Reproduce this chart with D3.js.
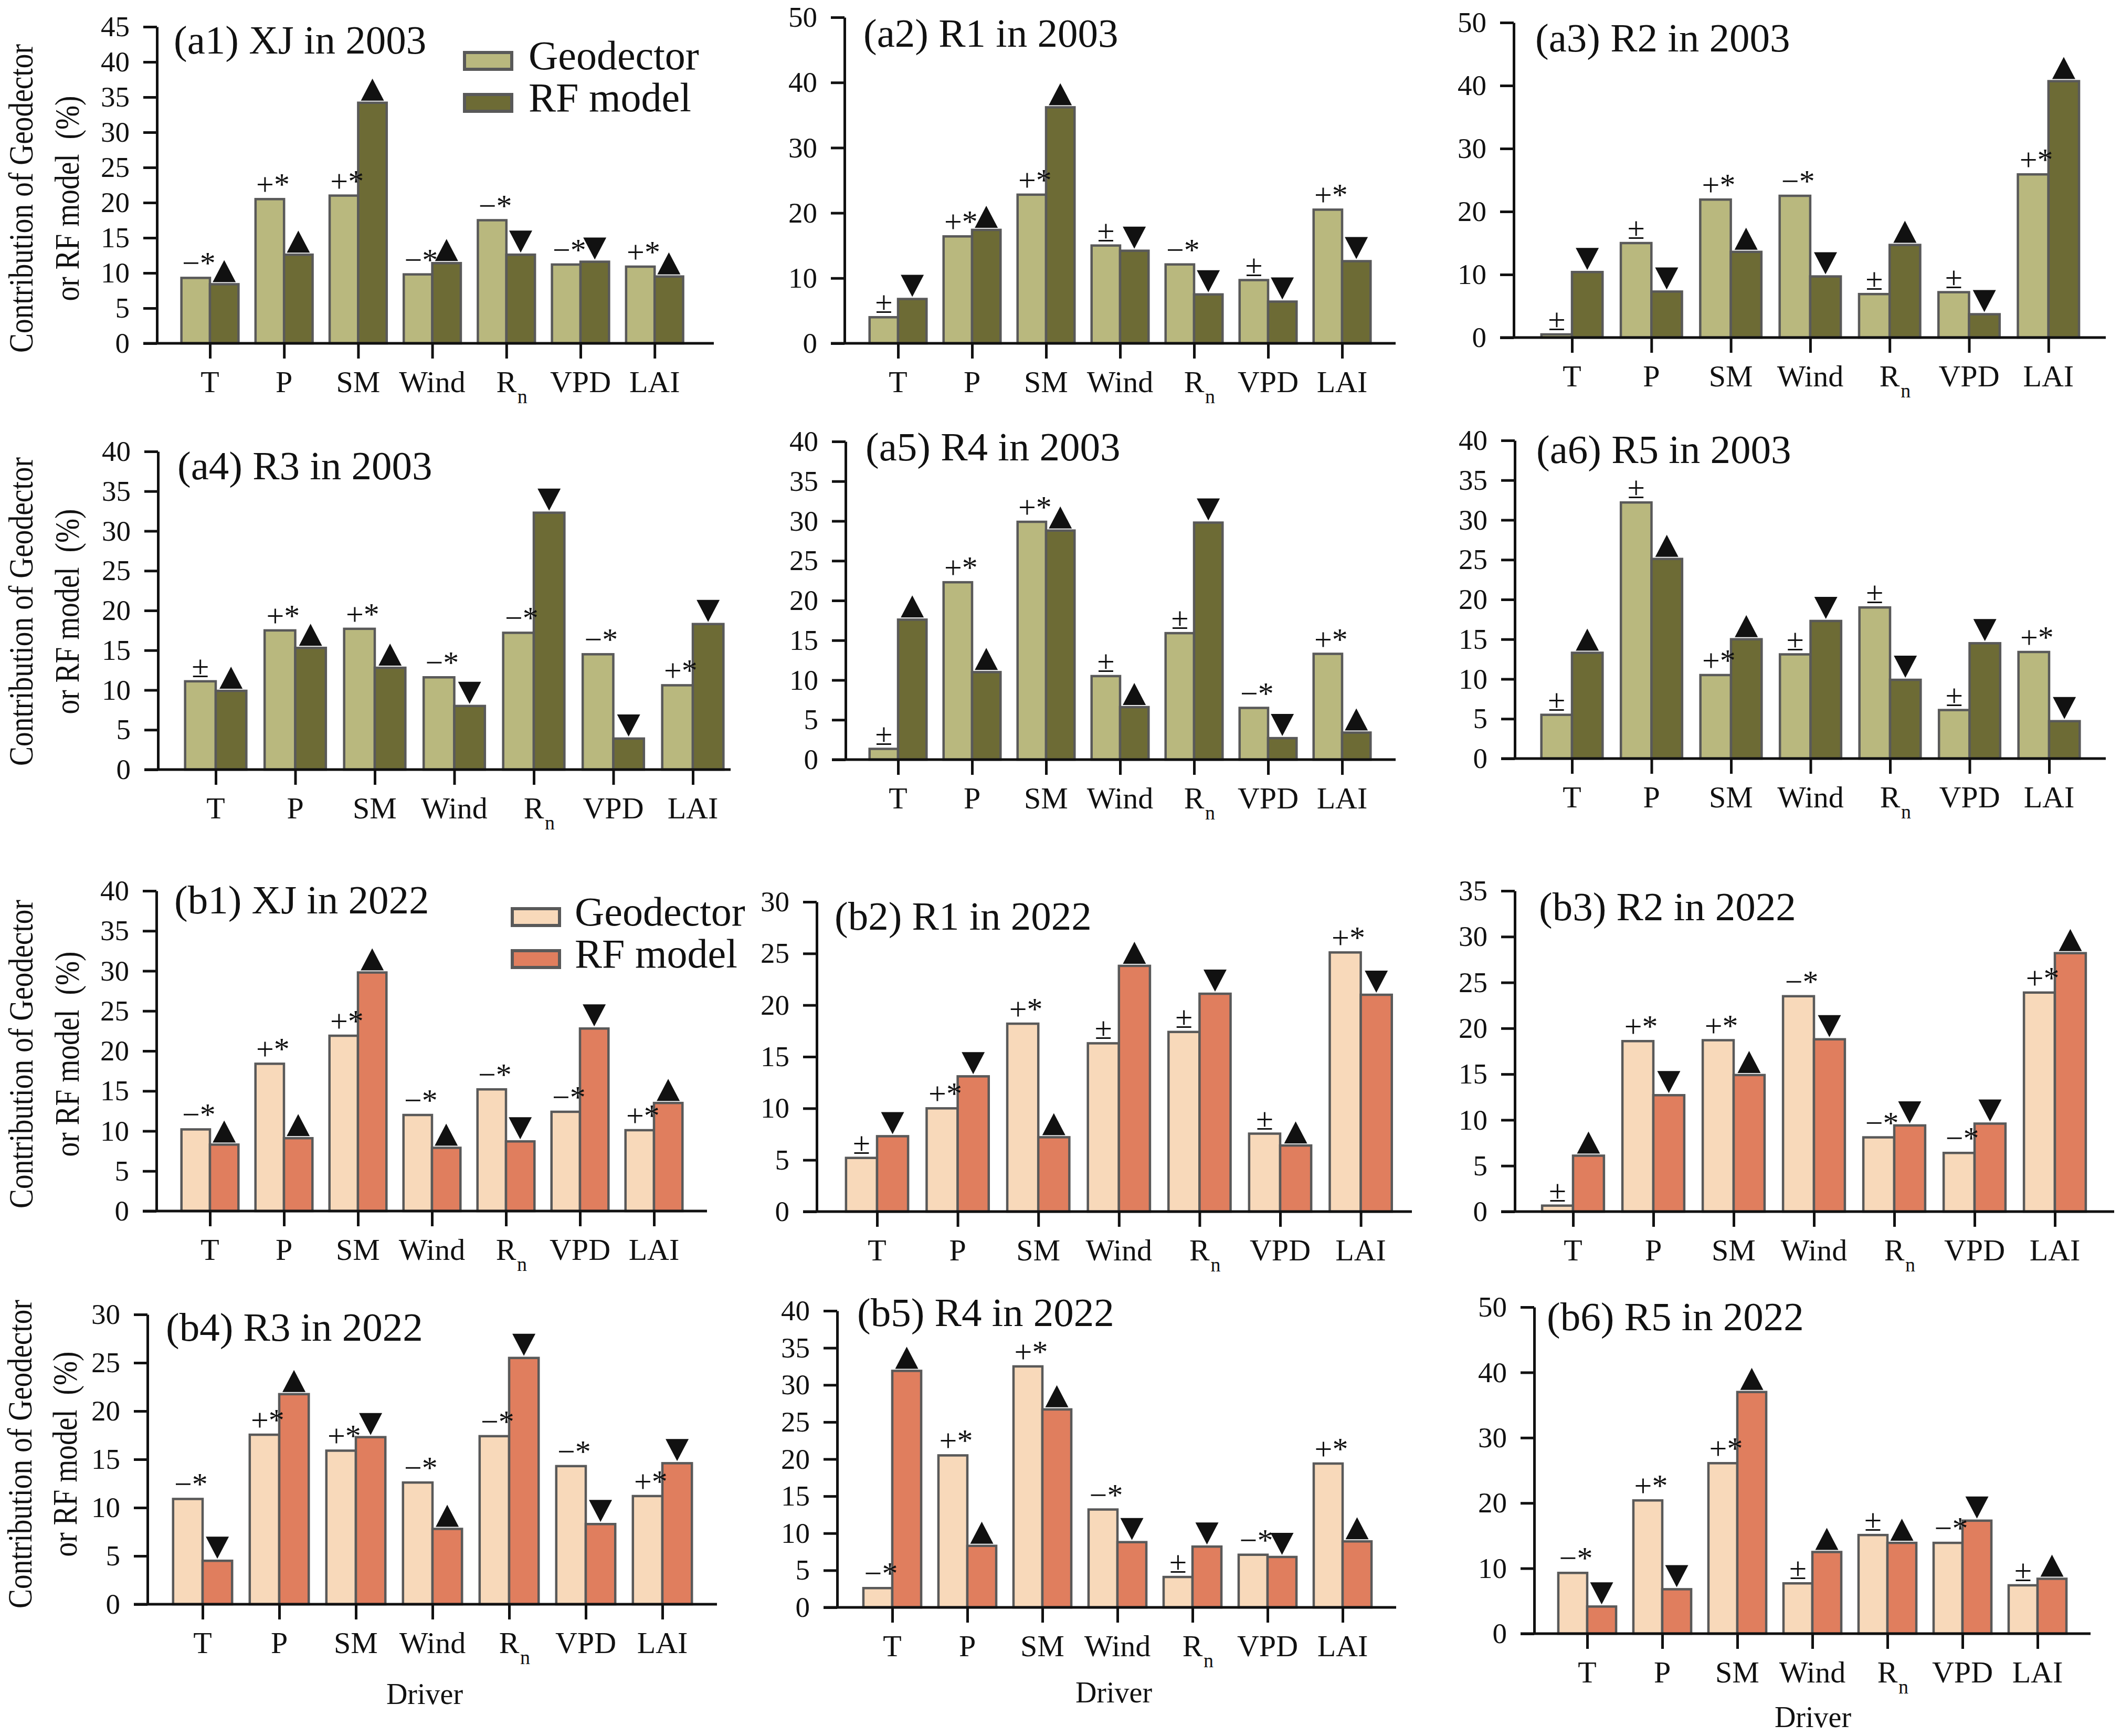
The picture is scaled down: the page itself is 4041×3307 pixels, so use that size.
<!DOCTYPE html>
<html>
<head>
<meta charset="utf-8">
<script src="https://cdn.jsdelivr.net/npm/d3@7"></script>
<style>
  html, body { margin: 0; padding: 0; background: #fff; }
  svg { display: block; }
  text { font-family: "Liberation Serif", "Times New Roman", serif; fill: #111; }
</style>
</head>
<body>
<svg id="chart"></svg>
<script>
// categories (x axis)
const drivers = ["T", "P", "SM", "Wind", "Rn", "VPD", "LAI"];

const panelTitles = [
    "(a1) XJ in 2003", "(a2) R1 in 2003", "(a3) R2 in 2003",
    "(a4) R3 in 2003", "(a5) R4 in 2003", "(a6) R5 in 2003",
    "(b1) XJ in 2022", "(b2) R1 in 2022", "(b3) R2 in 2022",
    "(b4) R3 in 2022", "(b5) R4 in 2022", "(b6) R5 in 2022"
];

// y axis extent and tick step of each panel
const yMax  = [45, 50, 50, 40, 40, 40, 40, 30, 35, 30, 40, 50];
const yStep = [ 5, 10, 10,  5,  5,  5,  5,  5,  5,  5,  5, 10];

// Geodector contribution (%)
const geoValues = [
    [9.3, 20.5, 21.0, 9.8, 17.5, 11.2, 10.9],
    [4.0, 16.4, 22.8, 15.0, 12.1, 9.7, 20.5],
    [0.5, 15.0, 21.9, 22.5, 6.9, 7.2, 25.9],
    [11.1, 17.5, 17.7, 11.6, 17.2, 14.5, 10.6],
    [1.35, 22.3, 29.9, 10.5, 15.9, 6.5, 13.3],
    [5.5, 32.2, 10.5, 13.1, 19.0, 6.1, 13.4],
    [10.2, 18.4, 21.9, 12.0, 15.2, 12.4, 10.1],
    [5.2, 10.0, 18.2, 16.3, 17.4, 7.55, 25.1],
    [0.65, 18.6, 18.7, 23.5, 8.1, 6.4, 23.9],
    [10.9, 17.55, 15.9, 12.6, 17.4, 14.3, 11.2],
    [2.6, 20.5, 32.5, 13.2, 4.1, 7.1, 19.4],
    [9.3, 20.4, 26.1, 7.7, 15.1, 13.9, 7.4]
];

// RF model contribution (%)
const rfValues = [
    [8.4, 12.6, 34.2, 11.4, 12.6, 11.6, 9.5],
    [6.8, 17.4, 36.2, 14.2, 7.5, 6.4, 12.6],
    [10.4, 7.3, 13.6, 9.7, 14.7, 3.7, 40.7],
    [9.9, 15.3, 12.8, 8.0, 32.3, 3.9, 18.3],
    [17.6, 11.0, 28.8, 6.6, 29.8, 2.7, 3.4],
    [13.3, 25.1, 15.0, 17.3, 9.9, 14.5, 4.7],
    [8.3, 9.1, 29.8, 7.9, 8.7, 22.8, 13.5],
    [7.3, 13.1, 7.2, 23.8, 21.1, 6.4, 21.0],
    [6.1, 12.7, 14.9, 18.8, 9.4, 9.6, 28.2],
    [4.5, 21.75, 17.3, 7.8, 25.5, 8.3, 14.6],
    [31.9, 8.3, 26.7, 8.8, 8.2, 6.8, 8.9],
    [4.15, 6.8, 37.0, 12.5, 13.9, 17.3, 8.4]
];

// sign / significance above the Geodector bar
const signLabels = [
    ["−*", "+*", "+*", "−*", "−*", "−*", "+*"],
    ["±", "+*", "+*", "±", "−*", "±", "+*"],
    ["±", "±", "+*", "−*", "±", "±", "+*"],
    ["±", "+*", "+*", "−*", "−*", "−*", "+*"],
    ["±", "+*", "+*", "±", "±", "−*", "+*"],
    ["±", "±", "+*", "±", "±", "±", "+*"],
    ["−*", "+*", "+*", "−*", "−*", "−*", "+*"],
    ["±", "+*", "+*", "±", "±", "±", "+*"],
    ["±", "+*", "+*", "−*", "−*", "−*", "+*"],
    ["−*", "+*", "+*", "−*", "−*", "−*", "+*"],
    ["−*", "+*", "+*", "−*", "±", "−*", "+*"],
    ["−*", "+*", "+*", "±", "±", "−*", "±"]
];

// trend triangle above the RF bar (u = up, d = down)
const trends = [
    ["u", "u", "u", "u", "d", "d", "u"],
    ["d", "u", "u", "d", "d", "d", "d"],
    ["d", "d", "u", "d", "u", "d", "u"],
    ["u", "u", "u", "d", "d", "d", "d"],
    ["u", "u", "u", "u", "d", "d", "u"],
    ["u", "u", "u", "d", "d", "d", "d"],
    ["u", "u", "u", "u", "d", "d", "u"],
    ["d", "d", "u", "u", "d", "u", "d"],
    ["u", "d", "u", "d", "d", "d", "u"],
    ["d", "u", "d", "u", "d", "d", "d"],
    ["u", "u", "u", "d", "d", "d", "u"],
    ["d", "d", "u", "u", "u", "d", "u"]
];

const legendLabels = ["Geodector", "RF model"];
const yLabelLines = ["Contribution of Geodector", "or RF model\u00a0 (%)"];
const xLabel = "Driver";

const colors2003 = ["#b9b87e", "#6d6b35"];
const colors2022 = ["#f8d9ba", "#e07e5e"];

// panel geometry in pixels: y axis x, first category, step, axis end, baseline, top, title
const layout = [
    { ax: 299,  first: 400,  step: 141.2, end: 1360, base: 654,  top: 51,   tx: 331,  ty: 102 },
    { ax: 1609, first: 1711, step: 141.0, end: 2659, base: 654,  top: 33,   tx: 1645, ty: 89 },
    { ax: 2884, first: 2995, step: 151.3, end: 4012, base: 643,  top: 43,   tx: 2925, ty: 98 },
    { ax: 301,  first: 411,  step: 151.5, end: 1392, base: 1466, top: 860,  tx: 338,  ty: 913 },
    { ax: 1611, first: 1711, step: 141.0, end: 2659, base: 1447, top: 841,  tx: 1649, ty: 877 },
    { ax: 2886, first: 2995, step: 151.5, end: 4012, base: 1445, top: 839,  tx: 2927, ty: 882 },
    { ax: 298,  first: 400,  step: 141.0, end: 1347, base: 2307, top: 1697, tx: 332,  ty: 1740 },
    { ax: 1556, first: 1671, step: 153.6, end: 2690, base: 2308, top: 1718, tx: 1590, ty: 1771 },
    { ax: 2886, first: 2997, step: 153.0, end: 4028, base: 2308, top: 1697, tx: 2932, ty: 1753 },
    { ax: 281,  first: 386,  step: 146.0, end: 1366, base: 3056, top: 2504, tx: 316,  ty: 2554 },
    { ax: 1595, first: 1700, step: 143.0, end: 2660, base: 3062, top: 2497, tx: 1633, ty: 2526 },
    { ax: 2923, first: 3024, step: 143.0, end: 3983, base: 3112, top: 2490, tx: 2947, ty: 2534 }
];

// y title (panels a1, a4, b1, b4), legends (a1, b1), "Driver" (b4, b5, b6)
const yTitlePos = { 0: [62, 150, 378], 3: [62, 150, 1165], 6: [62, 150, 2008], 9: [60, 146, 2770] };
const legendPos = { 0: [885, 100, 1007], 6: [976, 1731, 1095] };
const driverPos = { 9: [809, 3246], 10: [2122, 3243], 11: [3454, 3290] };

const width = 4041;
const height = 3307;
const barStroke = "#595959";

const svg = d3.select("#chart")
    .attr("width", width)
    .attr("height", height)
    .attr("viewBox", [0, 0, width, height]);

svg.append("rect").attr("width", width).attr("height", height).attr("fill", "#fff");

panelTitles.forEach((title, p) => {
    const L = layout[p];
    const colors = p < 6 ? colors2003 : colors2022;
    const g = svg.append("g").attr("class", "panel");

    const x = d3.scalePoint()
        .domain(drivers)
        .range([L.first, L.first + 6 * L.step]);
    const y = d3.scaleLinear()
        .domain([0, yMax[p]])
        .range([L.base, L.top]);
    const bw = L.step * 0.385;   // width of one bar

    const rows = drivers.map((d, i) => ({
        d, geo: geoValues[p][i], rf: rfValues[p][i], sign: signLabels[p][i], trend: trends[p][i]
    }));

    // Geodector bars
    g.append("g").selectAll("rect")
        .data(rows).join("rect")
        .attr("x", r => x(r.d) - bw)
        .attr("y", r => y(r.geo))
        .attr("width", bw)
        .attr("height", r => L.base - y(r.geo))
        .attr("fill", colors[0])
        .attr("stroke", barStroke)
        .attr("stroke-width", 4.5);

    // RF bars
    g.append("g").selectAll("rect")
        .data(rows).join("rect")
        .attr("x", r => x(r.d))
        .attr("y", r => y(r.rf))
        .attr("width", bw)
        .attr("height", r => L.base - y(r.rf))
        .attr("fill", colors[1])
        .attr("stroke", barStroke)
        .attr("stroke-width", 4.5);

    // sign labels above Geodector bars
    g.append("g").selectAll("text")
        .data(rows).join("text")
        .attr("x", r => x(r.d) - bw / 2 + (r.sign.length > 1 ? 6 : 0))
        .attr("y", r => y(r.geo) - 8)
        .attr("text-anchor", "middle")
        .attr("font-size", 60)
        .text(r => r.sign);

    // trend triangles above RF bars
    const tw = 22, th = 42, gap = 4;
    g.append("g").selectAll("path")
        .data(rows).join("path")
        .attr("fill", "#111")
        .attr("d", r => {
            const cx = x(r.d) + bw / 2;
            const yb = y(r.rf) - gap;
            return r.trend === "u"
                ? `M${cx - tw},${yb}L${cx + tw},${yb}L${cx},${yb - th}Z`
                : `M${cx - tw},${yb - th}L${cx + tw},${yb - th}L${cx},${yb}Z`;
        });

    // x axis line and category ticks
    g.append("line")
        .attr("x1", L.ax - 26).attr("x2", L.end)
        .attr("y1", L.base).attr("y2", L.base)
        .attr("stroke", "#111").attr("stroke-width", 5);

    g.append("g")
        .attr("transform", `translate(0,${L.base})`)
        .call(d3.axisBottom(x).tickSize(29).tickSizeOuter(0).tickFormat(""))
        .call(a => a.select(".domain").remove())
        .call(a => a.selectAll(".tick line").attr("stroke", "#111").attr("stroke-width", 5));

    // category labels (R with subscript n)
    const lab = g.append("g").selectAll("g")
        .data(drivers).join("g")
        .attr("transform", d => `translate(${x(d)},${L.base + 93})`);
    lab.append("text")
        .attr("text-anchor", "middle")
        .attr("font-size", 58)
        .text(d => d === "Rn" ? "R" : d);
    lab.filter(d => d === "Rn").append("text")
        .attr("x", 21)
        .attr("y", 21)
        .attr("font-size", 38)
        .text("n");

    // y axis
    g.append("g")
        .attr("transform", `translate(${L.ax},0)`)
        .call(d3.axisLeft(y)
            .tickValues(d3.range(0, yMax[p] + 0.001, yStep[p]))
            .tickSize(26).tickPadding(26).tickSizeOuter(0))
        .call(a => a.select(".domain").attr("stroke", "#111").attr("stroke-width", 5))
        .call(a => a.selectAll(".tick line").attr("stroke", "#111").attr("stroke-width", 5))
        .call(a => a.selectAll(".tick text")
            .attr("font-size", 55)
            .attr("font-family", "Liberation Serif, Times New Roman, serif")
            .attr("fill", "#111"));

    // panel title
    g.append("text")
        .attr("x", L.tx).attr("y", L.ty)
        .attr("font-size", 77)
        .text(title);

    // y title, two rotated lines
    if (yTitlePos[p]) {
        const [x1, x2, cy] = yTitlePos[p];
        [x1, x2].forEach((xx, k) => {
            g.append("text")
                .attr("transform", `translate(${xx},${cy}) rotate(-90) scale(0.84,1)`)
                .attr("text-anchor", "middle")
                .attr("font-size", 66)
                .text(yLabelLines[k]);
        });
    }

    // legend
    if (legendPos[p]) {
        const [lx, ly, ltx] = legendPos[p];
        legendLabels.forEach((name, k) => {
            const yy = ly + k * 80;
            g.append("rect")
                .attr("x", lx).attr("y", yy)
                .attr("width", 90).attr("height", 32)
                .attr("fill", colors[k])
                .attr("stroke", barStroke)
                .attr("stroke-width", 6);
            g.append("text")
                .attr("x", ltx).attr("y", yy + 32)
                .attr("font-size", 78)
                .text(name);
        });
    }

    // x title
    if (driverPos[p]) {
        g.append("text")
            .attr("x", driverPos[p][0]).attr("y", driverPos[p][1])
            .attr("text-anchor", "middle")
            .attr("font-size", 56)
            .text(xLabel);
    }
});
</script>
</body>
</html>
